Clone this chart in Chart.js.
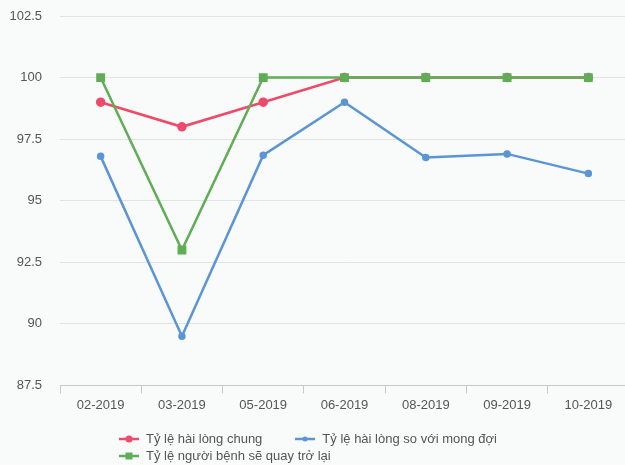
<!DOCTYPE html>
<html>
<head>
<meta charset="utf-8">
<script src="https://cdn.jsdelivr.net/npm/chart.js@4.4.1/dist/chart.umd.min.js"></script>
<style>
  html, body { margin: 0; padding: 0; background: #f9fafa; overflow: hidden; }
  #wrap { position: relative; width: 625px; height: 465px; overflow: hidden; }
  #legend {
    position: absolute; left: 118px; top: 430px;
    font-family: "Liberation Sans", Arial, sans-serif; font-size: 13px; color: #555;
    line-height: 17px;
  }
  #legend .row { white-space: nowrap; }
  #legend .item { display: inline-block; margin-right: 32px; }
  #legend canvas { vertical-align: middle; margin-right: 6px; position: relative; top: -1px; }
</style>
</head>
<body>
<div id="wrap">
  <canvas id="chart" width="636" height="465"></canvas>
  <div id="legend"></div>
</div>
<script>
const months = ['02-2019', '03-2019', '05-2019', '06-2019', '08-2019', '09-2019', '10-2019'];
const haiLongChung = [99, 98, 99, 100, 100, 100, 100];
const haiLongMongDoi = [96.8, 89.5, 96.85, 99, 96.75, 96.9, 96.1];
const quayTroLai = [100, 93, 100, 100, 100, 100, 100];
const yTicks = [87.5, 90, 92.5, 95, 97.5, 100, 102.5];

const series = [
    { label: 'Tỷ lệ hài lòng chung', data: haiLongChung, color: '#ee4b6a', point: 'circle', radius: 3.5, order: 2 },
    { label: 'Tỷ lệ hài lòng so với mong đợi', data: haiLongMongDoi, color: '#5b95d6', point: 'circle', radius: 2.5, order: 1 },
    { label: 'Tỷ lệ người bệnh sẽ quay trở lại', data: quayTroLai, color: '#5fae56', point: 'rect', radius: 4.5, order: 0 }
];

new Chart(document.getElementById('chart'), {
    type: 'line',
    data: {
        labels: months,
        datasets: series.map(s => ({
            label: s.label,
            data: s.data,
            borderColor: s.color,
            backgroundColor: s.color,
            pointBackgroundColor: s.color,
            pointBorderColor: s.color,
            pointStyle: s.point,
            pointRadius: s.radius,
            borderWidth: 2.5,
            tension: 0,
            order: s.order
        }))
    },
    options: {
        responsive: false,
        animation: false,
        layout: { padding: { left: 10, right: 0, top: 16, bottom: 48 } },
        plugins: {
            legend: { display: false },
            tooltip: { enabled: false }
        },
        scales: {
            x: {
                offset: true,
                afterFit: axis => { axis.paddingLeft = 0; axis.paddingRight = 0; },
                grid: { offset: true, drawOnChartArea: false, drawTicks: true, tickLength: 8, color: '#c8c8c8' },
                border: { color: '#c8c8c8' },
                ticks: { color: '#555', padding: 4, font: { family: 'Liberation Sans', size: 13 } }
            },
            y: {
                min: yTicks[0],
                max: yTicks[yTicks.length - 1],
                afterBuildTicks: axis => { axis.ticks = yTicks.map(v => ({ value: v })); },
                afterFit: axis => { axis.width = 50; axis.paddingTop = 0; axis.paddingBottom = 0; },
                grid: { color: '#e1e3e4', drawTicks: false },
                border: { display: false },
                ticks: { color: '#555', padding: 18, font: { family: 'Liberation Sans', size: 13 } }
            }
        }
    }
});

// legend below the plot: line with marker, two rows
function marker(s) {
    const c = document.createElement('canvas');
    c.width = 22; c.height = 10;
    const ctx = c.getContext('2d');
    ctx.strokeStyle = s.color; ctx.fillStyle = s.color; ctx.lineWidth = 2.5;
    ctx.beginPath(); ctx.moveTo(1, 5); ctx.lineTo(21, 5); ctx.stroke();
    if (s.point === 'rect') {
        ctx.fillRect(11 - 3.5, 5 - 3.5, 7, 7);
    } else {
        ctx.beginPath(); ctx.arc(11, 5, s.radius < 3 ? 2.5 : 3.5, 0, Math.PI * 2); ctx.fill();
    }
    return c;
}
const legend = document.getElementById('legend');
[[series[0], series[1]], [series[2]]].forEach(rowItems => {
    const row = document.createElement('div');
    row.className = 'row';
    rowItems.forEach(s => {
        const item = document.createElement('span');
        item.className = 'item';
        item.appendChild(marker(s));
        item.appendChild(document.createTextNode(s.label));
        row.appendChild(item);
    });
    legend.appendChild(row);
});
</script>
</body>
</html>
